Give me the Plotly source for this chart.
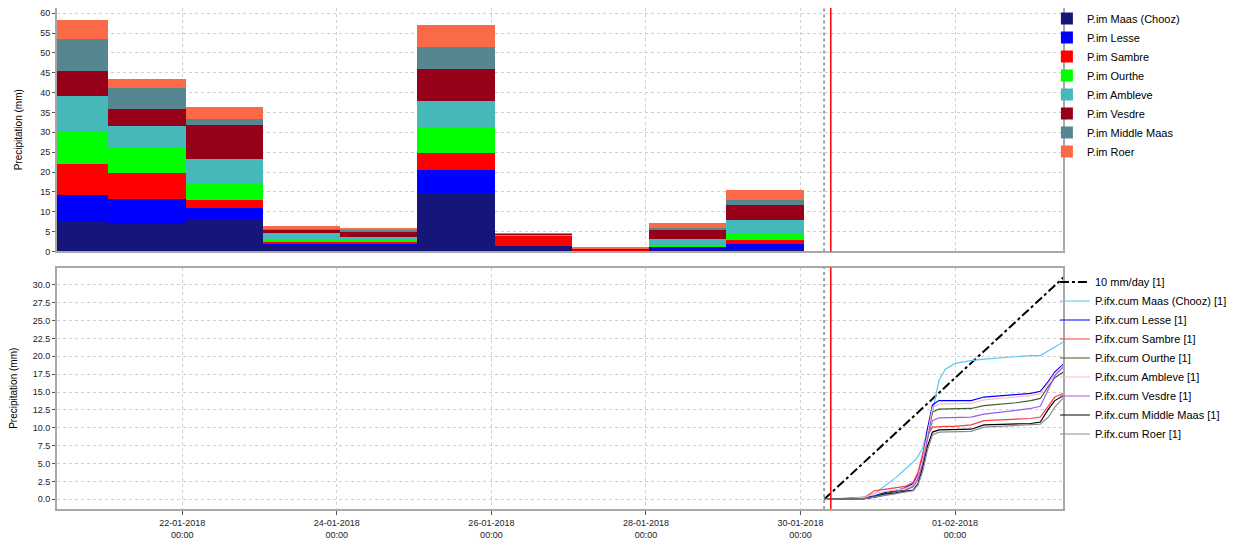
import plotly.graph_objects as go

# ---------------- data ----------------
bar_days = ["2018-01-20 13:00", "2018-01-21 13:00", "2018-01-22 13:00", "2018-01-23 13:00",
            "2018-01-24 13:00", "2018-01-25 13:00", "2018-01-26 13:00", "2018-01-27 13:00",
            "2018-01-28 13:00", "2018-01-29 13:00"]
p_maas    = [7.3, 6.9, 8.25, 1.7, 1.4, 14.6, 1.4, 0.1, 0.7, 0.7]
p_lesse   = [7.0, 6.2, 2.65, 0.2, 0.7, 6.0, 0.05, 0.05, 0.5, 1.15]
p_sambre  = [7.7, 6.7, 2.0, 0.6, 0.3, 4.2, 2.5, 0.4, 0.1, 0.95]
p_ourthe  = [8.3, 6.6, 4.4, 0.3, 0.6, 6.3, 0.0, 0.0, 0.25, 1.9]
p_ambleve = [8.8, 5.2, 6.1, 1.8, 0.7, 6.9, 0.2, 0.05, 1.7, 3.2]
p_vesdre  = [6.4, 4.3, 8.5, 1.0, 1.2, 8.0, 0.3, 0.2, 2.35, 3.9]
p_middle  = [8.0, 5.3, 1.4, 0.3, 0.6, 5.6, 0.1, 0.05, 0.3, 1.1]
p_roer    = [4.8, 2.3, 3.1, 0.4, 0.4, 5.5, 0.1, 0.05, 1.35, 2.5]

bar_names = ["P.im Maas (Chooz)", "P.im Lesse", "P.im Sambre", "P.im Ourthe",
             "P.im Ambleve", "P.im Vesdre", "P.im Middle Maas", "P.im Roer"]
bar_colors = ["#16167A", "#0000FF", "#FF0000", "#00FF00",
              "#45B8BA", "#960018", "#568790", "#FA6A46"]

ref_times = ["2018-01-30 07:20", "2018-02-02 09:40"]
ref_vals = [0.0, 31.0]

cum_times = ["2018-01-30 07:20", "2018-01-30 15:30", "2018-01-30 20:00", "2018-01-30 23:00",
             "2018-01-31 02:00", "2018-01-31 05:30", "2018-01-31 08:30", "2018-01-31 11:00",
             "2018-01-31 12:30", "2018-01-31 14:00", "2018-01-31 15:30", "2018-01-31 17:00",
             "2018-01-31 19:00", "2018-01-31 21:00", "2018-02-01 00:00", "2018-02-01 05:00",
             "2018-02-01 09:00", "2018-02-01 14:00", "2018-02-01 19:00", "2018-02-01 23:30",
             "2018-02-02 02:30", "2018-02-02 05:00", "2018-02-02 07:00", "2018-02-02 09:40"]
c_maas    = [0, 0.2, 0.3, 0.8, 1.8, 3.0, 4.2, 5.2, 6.0, 7.2, 9.8, 12.3, 16.6, 18.2, 19.0, 19.4, 19.6, 19.8, 20.0, 20.1, 20.1, 20.7, 21.3, 22.0]
c_lesse   = [0, 0.1, 0.2, 0.5, 0.9, 1.2, 1.6, 2.2, 3.5, 6.0, 10.0, 13.2, 13.8, 13.8, 13.8, 13.8, 14.3, 14.5, 14.6, 14.8, 15.1, 16.5, 17.8, 18.9]
c_sambre  = [0, 0.1, 0.3, 1.2, 1.4, 1.6, 1.8, 2.4, 3.8, 6.5, 9.0, 10.1, 10.2, 10.2, 10.2, 10.4, 11.0, 11.1, 11.2, 11.3, 11.5, 13.0, 14.3, 14.8]
c_ourthe  = [0, 0.05, 0.1, 0.4, 0.8, 1.1, 1.3, 1.8, 3.0, 5.5, 9.0, 12.2, 12.6, 12.6, 12.6, 12.7, 13.1, 13.3, 13.5, 13.8, 14.1, 15.8, 17.0, 17.8]
c_ambleve = [0, 0.1, 0.3, 0.8, 1.1, 1.3, 1.5, 2.0, 3.2, 5.6, 9.5, 12.8, 13.3, 13.3, 13.3, 13.4, 13.9, 14.1, 14.3, 14.5, 14.8, 16.2, 17.6, 18.7]
c_vesdre  = [0, 0.05, 0.1, 0.3, 0.5, 0.8, 1.2, 1.8, 2.8, 5.0, 8.5, 11.0, 11.4, 11.4, 11.4, 11.5, 11.9, 12.2, 12.4, 12.7, 13.0, 15.5, 17.3, 18.5]
c_middle  = [0, 0.05, 0.1, 0.3, 0.7, 0.9, 1.1, 1.3, 2.2, 4.5, 7.5, 9.4, 9.7, 9.7, 9.7, 9.8, 10.4, 10.5, 10.6, 10.6, 10.8, 12.6, 13.8, 14.5]
c_roer    = [0, 0.05, 0.1, 0.3, 0.6, 0.8, 1.0, 1.2, 2.0, 4.0, 7.0, 9.0, 9.4, 9.4, 9.4, 9.5, 10.1, 10.2, 10.3, 10.4, 10.5, 11.5, 12.9, 14.2]

cum_names = ["P.ifx.cum Maas (Chooz) [1]", "P.ifx.cum Lesse [1]", "P.ifx.cum Sambre [1]",
             "P.ifx.cum Ourthe [1]", "P.ifx.cum Ambleve [1]", "P.ifx.cum Vesdre [1]",
             "P.ifx.cum Middle Maas [1]", "P.ifx.cum Roer [1]"]
cum_colors = ["#5EC4F8", "#0000FF", "#FF3B3B", "#3B5E2B", "#FFB8C6", "#9B5CF2", "#000000", "#8C8C8C"]

tick_vals = ["2018-01-22", "2018-01-24", "2018-01-26", "2018-01-28", "2018-01-30", "2018-02-01"]
tick_text = ["22-01-2018<br>00:00", "24-01-2018<br>00:00", "26-01-2018<br>00:00",
             "28-01-2018<br>00:00", "30-01-2018<br>00:00", "01-02-2018<br>00:00"]

x_range = ["2018-01-20 09:05", "2018-02-02 09:32"]
t_zero = "2018-01-30 07:20"
t_now = "2018-01-30 09:25"

# ---------------- figure ----------------
fig = go.Figure()

bar_series = [p_maas, p_lesse, p_sambre, p_ourthe, p_ambleve, p_vesdre, p_middle, p_roer]
for name, col, vals in zip(bar_names, bar_colors, bar_series):
    fig.add_trace(go.Bar(x=bar_days, y=vals, name=name, marker=dict(color=col, line=dict(width=0)),
                         width=86400000, xaxis="x", yaxis="y", legend="legend"))

fig.add_trace(go.Scatter(x=ref_times, y=ref_vals, mode="lines", name="10 mm/day [1]",
                         line=dict(color="black", width=2, dash="dashdot"),
                         xaxis="x2", yaxis="y2", legend="legend2"))
cum_series = [c_maas, c_lesse, c_sambre, c_ourthe, c_ambleve, c_vesdre, c_middle, c_roer]
for name, col, vals in zip(cum_names, cum_colors, cum_series):
    fig.add_trace(go.Scatter(x=cum_times, y=vals, mode="lines", name=name,
                             line=dict(color=col, width=1.2),
                             xaxis="x2", yaxis="y2", legend="legend2"))

font_family = "Liberation Sans, Arial, sans-serif"
axis_common = dict(showline=True, mirror=True, linecolor="#A8A8A8", linewidth=2,
                   showgrid=True, gridcolor="#CFCFCF", griddash="dot", gridwidth=1,
                   zeroline=False, tickfont=dict(size=9, color="#222222"))

shapes = []
for yref in ["y domain", "y2 domain"]:
    xref = "x" if yref == "y domain" else "x2"
    shapes.append(dict(type="line", xref=xref, yref=yref, x0=t_zero, x1=t_zero, y0=0, y1=1,
                       line=dict(color="#A0A0A0", width=2, dash="dot")))
    shapes.append(dict(type="line", xref=xref, yref=yref, x0=t_now, x1=t_now, y0=0, y1=1,
                       line=dict(color="#FF0000", width=1.5)))

fig.update_layout(
    width=1240, height=534,
    margin=dict(l=49, r=185, t=0, b=33, autoexpand=False),
    paper_bgcolor="white", plot_bgcolor="white",
    font=dict(family=font_family, size=10, color="black"),
    barmode="stack", bargap=0,
    showlegend=True,
    xaxis=dict(**axis_common, type="date", range=x_range, domain=[0, 1],
               tickvals=tick_vals, ticktext=tick_text, showticklabels=False, ticks=""),
    yaxis=dict(**axis_common, domain=[0.514, 1], range=[0, 61.3], dtick=5,
               ticks="outside", ticklen=3, tickcolor="#555555",
               title=dict(text="Precipitation (mm)", font=dict(size=10), standoff=16)),
    xaxis2=dict(**axis_common, type="date", range=x_range, domain=[0, 1], anchor="y2",
                tickvals=tick_vals, ticktext=tick_text, ticks="outside", ticklen=4,
                tickcolor="#555555"),
    yaxis2=dict(**axis_common, domain=[0, 0.482], range=[-1.35, 32.4], dtick=2.5,
                tickformat=".1f", anchor="x2", ticks="outside", ticklen=3, tickcolor="#555555",
                title=dict(text="Precipitation (mm)", font=dict(size=10), standoff=16)),
    legend=dict(x=0.984, xanchor="left", y=1.008, yanchor="top", bgcolor="rgba(0,0,0,0)",
                font=dict(size=11), tracegroupgap=0, itemwidth=30, traceorder="normal"),
    legend2=dict(x=0.992, xanchor="left", y=0.482, yanchor="top", bgcolor="rgba(0,0,0,0)",
                 font=dict(size=11), tracegroupgap=0, itemwidth=30, traceorder="normal"),
    shapes=shapes,
)

fig.write_html("out.html")
